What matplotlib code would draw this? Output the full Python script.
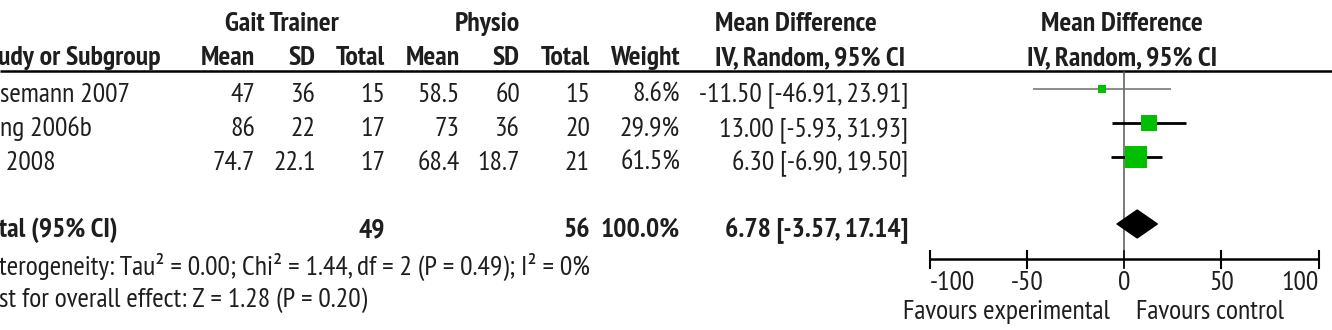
import matplotlib
matplotlib.use("Agg")
import matplotlib.pyplot as plt
from matplotlib.patches import Polygon
from matplotlib import font_manager as fm
import numpy as np

_avail = set(f.name for f in fm.fontManager.ttflist)
_pref = ['Arial Narrow', 'Liberation Sans Narrow', 'PT Sans Narrow', 'Roboto Condensed',
         'Archivo Narrow', 'Liberation Sans']
FONT = [f for f in _pref if f in _avail][0]
plt.rcParams['font.family'] = [FONT, 'DejaVu Sans']

# ---------------- data ----------------
study_labels = ["semann 2007", "ng 2006b", " 2008"]
gt_mean = [47, 86, 74.7]
gt_sd = [36, 22, 22.1]
gt_total = [15, 17, 17]
ph_mean = [58.5, 73, 68.4]
ph_sd = [60, 36, 18.7]
ph_total = [15, 20, 21]
weight = [8.6, 29.9, 61.5]
md = [-11.50, 13.00, 6.30]
ci_lo = [-46.91, -5.93, -6.90]
ci_hi = [23.91, 31.93, 19.50]

total_label = "tal (95% CI)"
gt_total_sum = 49
ph_total_sum = 56
total_weight = 100.0
pooled_md = 6.78
pooled_lo = -3.57
pooled_hi = 17.14

heterogeneity = "terogeneity: Tau\u00b2 = 0.00; Chi\u00b2 = 1.44, df = 2 (P = 0.49); I\u00b2 = 0%"
overall = "st for overall effect: Z = 1.28 (P = 0.20)"

axis_ticks = [-100, -50, 0, 50, 100]
favours_left = "Favours experimental"
favours_right = "Favours control"

# ---------------- layout ----------------
W, H = 1332, 330
fig = plt.figure(figsize=(W / 100, H / 100), dpi=100)
ax = fig.add_axes([0, 0, 1, 1])
ax.set_xlim(0, W)
ax.set_ylim(H, 0)
ax.axis('off')

TXT = '#1e1e1e'
FS = 20

def t(x, y, s, ha='left', bold=False, size=FS, color=TXT):
    ax.text(x, y, s, ha=ha, va='baseline', fontsize=size,
            fontweight='bold' if bold else 'normal', color=color)

# group headers
t(282, 31, "Gait Trainer", ha='center', bold=True)
t(487, 31, "Physio", ha='center', bold=True)
t(796, 31, "Mean Difference", ha='center', bold=True)
t(1122, 31, "Mean Difference", ha='center', bold=True)

# column headers
hy = 65
t(-2, hy, "udy or Subgroup", bold=True)
col_right = [255, 316, 385, 460, 520, 590, 680]
col_names = ["Mean", "SD", "Total", "Mean", "SD", "Total", "Weight"]
for xr, nm in zip(col_right, col_names):
    t(xr, hy, nm, ha='right', bold=True)
t(810, hy, "IV, Random, 95% CI", ha='center', bold=True)
t(1122, hy, "IV, Random, 95% CI", ha='center', bold=True)

# header rule
ax.plot([0, W], [70.5, 70.5], color='black', lw=1.8, solid_capstyle='butt')

# study rows
row_base = [102, 136, 170]
for i in range(len(study_labels)):
    y = row_base[i]
    t(0, y, study_labels[i])
    vals = ["{:g}".format(gt_mean[i]), "{:g}".format(gt_sd[i]), str(gt_total[i]),
            "{:g}".format(ph_mean[i]), "{:g}".format(ph_sd[i]), str(ph_total[i]),
            "{:.1f}%".format(weight[i])]
    for xr, v in zip(col_right, vals):
        t(xr, y, v, ha='right')
    t(908, y, "{:.2f} [{:.2f}, {:.2f}]".format(md[i], ci_lo[i], ci_hi[i]), ha='right')

# total row
ty = 237
t(-1, ty, total_label, bold=True)
t(385, ty, str(gt_total_sum), ha='right', bold=True)
t(590, ty, str(ph_total_sum), ha='right', bold=True)
t(680, ty, "{:.1f}%".format(total_weight), ha='right', bold=True)
t(908, ty, "{:.2f} [{:.2f}, {:.2f}]".format(pooled_md, pooled_lo, pooled_hi), ha='right', bold=True)

t(-1, 275, heterogeneity)
t(-1, 307, overall)

# ---------------- forest axes ----------------
x0_px, scale = 1124.0, 1.945
y0_px, rowh = 89.0, 34.0
fx = fig.add_axes([0, 0, 1, 1])
fx.set_xlim((0 - x0_px) / scale, (W - x0_px) / scale)
fx.set_ylim((H - y0_px) / rowh, (0 - y0_px) / rowh)
fx.axis('off')
fx.patch.set_alpha(0)

rows = np.arange(len(md))
total_row = 3.97
axis_row = 5.0

# zero line
fx.plot([0, 0], [-0.5, 5.26], color='#555555', lw=1.1, zorder=1)

# CI lines
ci_colors = ['#6e6e6e', 'black', 'black']
ci_widths = [1.1, 2.0, 2.0]
for i in rows:
    fx.plot([ci_lo[i], ci_hi[i]], [i, i], color=ci_colors[i], lw=ci_widths[i],
            solid_capstyle='butt', zorder=2)

# squares sized by weight
sizes_px = 2.85 * np.sqrt(np.array(weight))
for i in rows:
    fx.plot(md[i], i, marker='s', markersize=sizes_px[i] / 1.389,
            color='#00bf00', markeredgewidth=0, zorder=3)

# pooled diamond
dh = 0.41
diamond = Polygon([[pooled_lo, total_row], [pooled_md, total_row - dh],
                   [pooled_hi, total_row], [pooled_md, total_row + dh]],
                  closed=True, facecolor='black', edgecolor='black', lw=1.0,
                  joinstyle='round', zorder=3)
fx.add_patch(diamond)

# axis
fx.plot([axis_ticks[0], axis_ticks[-1]], [axis_row, axis_row], color='black', lw=1.8,
        solid_capstyle='butt', zorder=2)
for j, tk in enumerate(axis_ticks):
    fx.plot([tk, tk], [4.76, 5.26], color='black', lw=1.5 if tk != 0 else 1.1,
            zorder=2)
    ha = 'left' if j == 0 else ('right' if j == len(axis_ticks) - 1 else 'center')
    fx.text(tk, (290 - y0_px) / rowh, "{:d}".format(tk), ha=ha, va='baseline',
            fontsize=FS, color=TXT)

fx.text(-7, (319 - y0_px) / rowh, favours_left, ha='right', va='baseline',
        fontsize=FS, color=TXT)
fx.text(6, (319 - y0_px) / rowh, favours_right, ha='left', va='baseline',
        fontsize=FS, color=TXT)

fig.savefig("out.png", dpi=100, facecolor='white')
